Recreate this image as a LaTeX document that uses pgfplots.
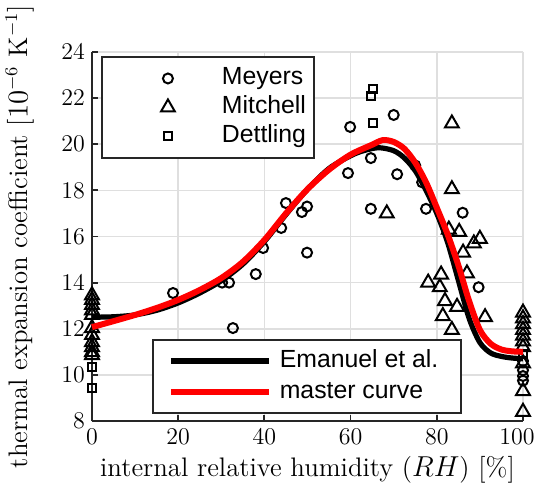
\documentclass[border=0pt]{standalone}
\usepackage{fontspec}
\usepackage{pgfplots}
\pgfplotsset{compat=1.18}
\newfontfamily\arialfont{Liberation Sans}

\pgfplotstableread{
x y
18.8 13.55
30.2 14.0
31.8 14.0
32.7 12.03
38.0 14.37
39.7 15.5
43.9 16.37
45.0 17.45
48.7 17.06
49.9 17.3
49.9 15.3
59.4 18.75
59.9 20.75
64.7 19.4
64.7 17.2
70.0 21.27
70.8 18.7
75.0 19.08
76.6 18.35
77.5 17.2
86.0 17.03
89.7 13.8
100 10.6
100 10.2
100 9.95
100 9.75
}\meyers

\pgfplotstableread{
x y
0 13.45
0 13.25
0 13.03
0 12.8
0 12.6
0 12.03
0 11.73
0 11.42
0 11.2
0 10.99
0 10.86
68.4 17.0
83.5 20.9
83.5 18.05
82.8 16.3
85.2 16.2
88.6 15.7
90.0 15.9
86.1 15.3
87.0 14.4
81.0 14.35
78.0 14.0
80.7 13.8
81.9 13.2
84.7 12.95
81.4 12.55
91.2 12.5
83.5 11.95
100 12.7
100 12.45
100 12.2
100 11.95
100 11.7
100 11.45
100 11.2
100 10.5
100 9.3
100 8.4
}\mitchell

\pgfplotstableread{
x y
65.2 22.4
64.7 22.1
65.2 20.9
0 10.35
0 9.43
100 10.9
}\dettling

\pgfplotstableread{
x y
0 12.5
5 12.52
10 12.6
15 12.8
20 13.12
25 13.55
30 14.08
35 14.8
40 15.78
45 16.95
50 18.05
55 18.95
60 19.5
63 19.72
66.5 19.85
70 19.72
72.5 19.4
75 18.85
77.5 18.0
80 17.0
82.5 15.75
85 14.1
87.5 12.45
90 11.4
92.5 10.95
95 10.8
97.5 10.73
100 10.7
}\emanuel

\pgfplotstableread{
x y
0 12.07
5 12.33
10 12.6
15 12.9
20 13.25
25 13.68
30 14.2
35 14.9
40 15.85
45 17.0
50 18.05
55 18.9
60 19.55
65 19.98
67.5 20.18
70 20.1
72.5 19.8
75 19.2
77.5 18.35
80 17.25
82.5 16.1
85 14.75
87.5 13.2
90 11.95
92.5 11.35
95 11.1
97.5 11.02
100 11.0
}\master

\begin{document}
\begin{tikzpicture}
\pgfplotsset{
  base/.style={
    scale only axis, width=215.5pt, height=184.5pt,
    xmin=0, xmax=100, ymin=8, ymax=24, clip=false,
    at={(0pt,0pt)}, anchor=south west,
  }
}
\begin{axis}[base,
  axis x line*=bottom, axis y line*=left,
  xtick={0,20,...,100}, ytick={8,10,...,24},
  xticklabels={0,20,40,60,80,\hspace*{-6pt}100},
  grid=major, major grid style={gray!25, line width=0.8pt},
  tick align=inside, major tick length=3pt,
  axis line style={black!85, line width=0.9pt},
  tick style={black!85, line width=0.9pt},
  ticklabel style={font=\fontsize{12}{14}\selectfont},
  xlabel={internal relative humidity ($RH$) [\%]},
  ylabel={thermal expansion coefficient [$10^{-6}$ K$^{-1}$]},
  label style={font=\fontsize{13.4}{15}\selectfont},
  xlabel style={at={(axis description cs:0.5,-0.133)}, anchor=center},
  ylabel style={at={(axis description cs:-0.167,0.5)}, anchor=center},
  legend style={at={(rel axis cs:0.021,0.989)}, anchor=north west,
    draw=black!85, line width=0.9pt, fill=white,
    inner xsep=0pt, inner ysep=5pt, row sep=3pt,
    font=\arialfont\fontsize{12.4}{14}\selectfont,
    nodes={inner ysep=0pt, inner xsep=4pt, text height=9pt, text depth=2.5pt}},
  legend cell align=left,
  legend image code/.code={%
    \path[draw=none, fill=none] (0pt,0pt) (56pt,0pt);
    \path[#1, draw=none, only marks] plot coordinates {(33pt,0pt)};},
]
\addplot[only marks, mark=o, mark size=2.5pt, line width=1pt, black, mark options={draw=black}] table[x=x,y=y] {\meyers};
\addlegendentry{Meyers}
\addplot[only marks, mark=triangle, mark size=4pt, line width=1pt, black, mark options={draw=black}] table[x=x,y=y] {\mitchell};
\addlegendentry{Mitchell}
\addplot[only marks, mark=square, mark size=2pt, line width=1pt, black, mark options={draw=black}] table[x=x,y=y] {\dettling};
\addlegendentry{Dettling}
\end{axis}

\begin{axis}[base, hide axis,
  legend style={at={(rel axis cs:0.139,0.019)}, anchor=south west,
    draw=black!85, line width=0.9pt, fill=white,
    inner xsep=7.5pt, inner ysep=4.75pt, row sep=4pt,
    font=\arialfont\fontsize{12.4}{14}\selectfont,
    nodes={inner ysep=0pt, inner xsep=4pt, text height=9pt, text depth=2.5pt}},
  legend cell align=left,
  legend image code/.code={\draw[#1] (0pt,0pt) -- (49pt,0pt);},
]
\addplot[black, line width=2.6pt, smooth, no marks] table[x=x,y=y] {\emanuel};
\addlegendentry{Emanuel et al.}
\addplot[red, line width=3pt, smooth, no marks] table[x=x,y=y] {\master};
\addlegendentry{master curve}
\end{axis}
\pgfresetboundingbox
\path[use as bounding box] (-46pt,-39.5pt) rectangle (222.5pt,210.5pt);
\end{tikzpicture}
\end{document}
